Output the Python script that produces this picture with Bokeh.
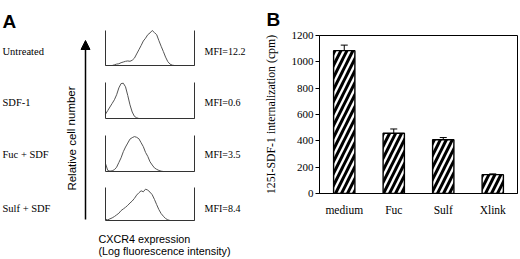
from bokeh.plotting import figure
from bokeh.layouts import row
from bokeh.models import (Range1d, Arrow, NormalHead, Whisker, TeeHead,
                          ColumnDataSource, FixedTicker)
from bokeh.core.properties import value
from bokeh.embed import file_html
from bokeh.resources import INLINE

# ---------------- Panel A data ----------------
treatments = ["Untreated", "SDF-1", "Fuc + SDF", "Sulf + SDF"]
mfi_labels = ["MFI=12.2", "MFI=0.6", "MFI=3.5", "MFI=8.4"]
log_intensity = [0.0, 0.1, 0.2, 0.3, 0.4, 0.5, 0.6, 0.7, 0.8, 0.9,
                 1.0, 1.1, 1.2, 1.3, 1.4, 1.5, 1.6, 1.7, 1.8, 1.9,
                 2.0, 2.1, 2.2, 2.3, 2.4, 2.5, 2.6, 2.7, 2.8, 2.9,
                 3.0, 3.1, 3.2, 3.3, 3.4, 3.5, 3.6, 3.7, 3.8, 3.9, 4.0]
untreated_counts = [0, 0, 0, 0, 0.02, 0.04, 0.05, 0.08, 0.10, 0.12,
                    0.13, 0.12, 0.15, 0.21, 0.33, 0.45, 0.57, 0.70, 0.78, 0.88,
                    0.93, 1.00, 0.94, 0.88, 0.71, 0.55, 0.40, 0.24, 0.11, 0.04,
                    0.01, 0, 0, 0, 0, 0, 0, 0, 0, 0, 0]
sdf1_counts = [0.12, 0.22, 0.32, 0.42, 0.52, 0.66, 0.85, 0.97, 0.98, 0.88,
               0.64, 0.38, 0.18, 0.06, 0.02, 0, 0, 0, 0, 0,
               0, 0, 0, 0, 0, 0, 0, 0, 0, 0,
               0, 0, 0, 0, 0, 0, 0, 0, 0, 0, 0]
fuc_sdf_counts = [0.22, 0.03, 0.01, 0.02, 0.05, 0.12, 0.25, 0.38, 0.55, 0.68,
                  0.79, 0.90, 0.94, 0.97, 0.95, 0.91, 0.80, 0.69, 0.53, 0.42,
                  0.27, 0.18, 0.10, 0.06, 0.03, 0.01, 0, 0, 0, 0,
                  0, 0, 0, 0, 0, 0, 0, 0, 0, 0, 0]
sulf_sdf_counts = [0.04, 0.02, 0.05, 0.08, 0.12, 0.17, 0.22, 0.30, 0.35, 0.40,
                   0.46, 0.53, 0.59, 0.67, 0.77, 0.84, 0.90, 0.87, 0.95, 0.92,
                   0.86, 0.78, 0.64, 0.48, 0.33, 0.21, 0.13, 0.06, 0.02, 0,
                   0, 0, 0, 0, 0, 0, 0, 0, 0, 0, 0]
histograms = [untreated_counts, sdf1_counts, fuc_sdf_counts, sulf_sdf_counts]

# ---------------- Panel B data ----------------
conditions = ["medium", "Fuc", "Sulf", "Xlink"]
internalization = [1085, 458, 408, 143]
internalization_err = [42, 32, 17, 6]
y_ticks = [0, 200, 400, 600, 800, 1000, 1200]

SERIF = "Liberation Serif"
SANS = "Liberation Sans"

# ---------------- Panel A figure (pixel-like layout coordinates) ----------------
WA, HA = 260, 259
BOX_X0, PX_PER_DEC, DECADES = 105.0, 22.25, 4.0
box_bases = [65, 118, 171, 220]
box_heights = [35, 36, 36, 33]
label_y = [50.5, 101.5, 154, 208]

pA = figure(width=WA, height=HA, output_backend="svg", toolbar_location=None,
            x_range=Range1d(0, WA), y_range=Range1d(HA, 0),
            x_axis_location=None, y_axis_location=None,
            min_border=0, outline_line_color=None)
pA.frame_align = False
pA.grid.visible = False
pA.extra_x_ranges = {"logI": Range1d(-BOX_X0 / PX_PER_DEC, (WA - BOX_X0) / PX_PER_DEC)}
for k, (base, h) in enumerate(zip(box_bases, box_heights)):
    pA.extra_y_ranges[f"h{k}"] = Range1d((base - HA) / h, base / h)

for k, counts in enumerate(histograms):
    src = ColumnDataSource(dict(lx=log_intensity, c=counts))
    pA.line("lx", "c", source=src, x_range_name="logI", y_range_name=f"h{k}",
            line_color="#555555", line_width=1)
    pA.segment(x0=[0, 0, DECADES], y0=[0, 0, 0], x1=[0, DECADES, DECADES], y1=[1, 0, 1],
               x_range_name="logI", y_range_name=f"h{k}", line_color="#333333", line_width=1)

pA.text(x=[2] * 4, y=label_y, text=treatments, text_font=value(SERIF),
        text_font_size="10.5px", text_baseline="middle", text_color="black")
pA.text(x=[204] * 4, y=label_y, text=mfi_labels, text_font=value(SERIF),
        text_font_size="10px", text_baseline="middle", text_color="black")
pA.text(x=[2], y=[21], text=["A"], text_font=value(SANS), text_font_style="bold",
        text_font_size="19px", text_baseline="alphabetic", text_color="black")
pA.text(x=[98, 98], y=[238.5, 250.5], text=["CXCR4 expression", "(Log fluorescence intensity)"],
        text_font=value(SANS), text_font_size="10.8px", text_baseline="middle",
        text_color="black")
pA.text(x=[71], y=[138], text=["Relative cell number"], angle=1.5708,
        text_font=value(SANS), text_font_size="11.5px", text_baseline="middle",
        text_align="center", text_color="black")
pA.add_layout(Arrow(end=NormalHead(size=9, fill_color="black", line_color="black"),
                    x_start=85, y_start=219, x_end=85, y_end=40,
                    line_color="black", line_width=1.5))

# ---------------- Panel B figure ----------------
pB = figure(x_range=conditions, y_range=Range1d(0, 1200), width=260, height=259,
            output_backend="svg", toolbar_location=None,
            min_border_left=52, min_border_right=3, min_border_top=34, min_border_bottom=66,
            outline_line_color="black", outline_line_width=1)
pB.frame_align = False
pB.grid.visible = False
pB.vbar(x=conditions, top=internalization, width=0.43, fill_color="white",
        line_color="black", line_width=1.4, hatch_pattern="/", hatch_color="black",
        hatch_scale=12, hatch_weight=3)
err_src = ColumnDataSource(dict(x=conditions, lower=internalization,
                                upper=[v + e for v, e in zip(internalization, internalization_err)]))
pB.add_layout(Whisker(base="x", lower="lower", upper="upper", source=err_src,
                      lower_head=None, upper_head=TeeHead(size=7, line_width=1, line_color="black"),
                      line_color="black", line_width=1))

pB.yaxis.ticker = FixedTicker(ticks=y_ticks)
pB.yaxis.minor_tick_line_color = None
pB.yaxis.major_tick_in = 0
pB.yaxis.major_tick_out = 4
pB.yaxis.major_label_standoff = 2
pB.yaxis.major_label_text_font = SERIF
pB.yaxis.major_label_text_font_size = "11px"
pB.yaxis.axis_label = "125I-SDF-1 internalization (cpm)"
pB.yaxis.axis_label_text_font = SERIF
pB.yaxis.axis_label_text_font_size = "11.8px"
pB.yaxis.axis_label_text_font_style = "normal"
pB.yaxis.axis_label_text_color = "black"
pB.yaxis.axis_label_standoff = 11
pB.xaxis.major_tick_line_color = None
pB.xaxis.major_tick_out = 0
pB.xaxis.major_tick_in = 0
pB.xaxis.minor_tick_line_color = None
pB.xaxis.major_label_standoff = 10
pB.xaxis.major_label_text_font = SERIF
pB.xaxis.major_label_text_font_size = "11.5px"
for ax in (pB.xaxis, pB.yaxis):
    ax.axis_line_color = "black"
    ax.major_label_text_color = "black"

pB.title.text = "B"
pB.title.align = "left"
pB.title.offset = -53
pB.title.standoff = 12
pB.title.text_font = SANS
pB.title.text_font_style = "bold"
pB.title.text_font_size = "19px"
pB.title.text_color = "black"

layout = row(pA, pB)
open("out.html", "w").write(file_html(layout, INLINE))
